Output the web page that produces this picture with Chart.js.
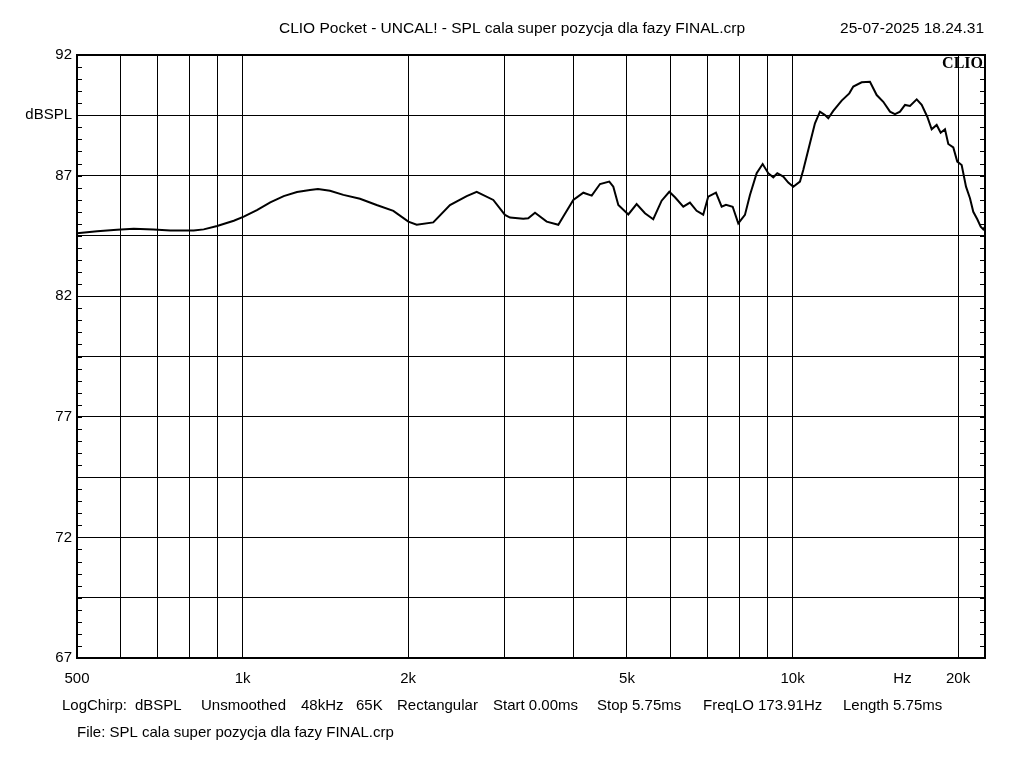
<!DOCTYPE html>
<html>
<head>
<meta charset="utf-8">
<script src="https://cdn.jsdelivr.net/npm/chart.js@4.4.1/dist/chart.umd.min.js"></script>
<style>
  html, body { margin: 0; padding: 0; background: #fff; }
  #chart { display: block; }
</style>
</head>
<body>
<canvas id="chart" width="1024" height="768"></canvas>
<script>
// frequency (Hz) and level (dBSPL)
var freqs = [500, 544, 591, 634, 689, 739, 815, 850, 899, 964,
  1005, 1062, 1123, 1188, 1256, 1326, 1371, 1442, 1525, 1635,
  1753, 1880, 2002, 2073, 2222, 2383, 2556, 2665, 2857, 3000,
  3064, 3239, 3307, 3402, 3573, 3751, 3830, 3994, 4165, 4314,
  4466, 4643, 4722, 4822, 5028, 5206, 5391, 5581, 5781, 5969,
  6113, 6329, 6508, 6693, 6880, 7026, 7257, 7432, 7568, 7783,
  7968, 8193, 8367, 8605, 8824, 9033, 9225, 9382, 9620, 9823,
  10031, 10315, 10459, 10756, 10984, 11216, 11455, 11614, 11859, 12284,
  12682, 12896, 13356, 13829, 14223, 14621, 15038, 15356, 15682, 16014,
  16350, 16816, 17172, 17578, 17905, 18284, 18594, 18931, 19195, 19602,
  19930, 20300, 20673, 21019, 21312, 21674, 21985, 22224, 22384];
var spl = [84.61, 84.69, 84.76, 84.80, 84.77, 84.72, 84.72, 84.77, 84.91, 85.13,
  85.30, 85.57, 85.89, 86.15, 86.32, 86.40, 86.44, 86.37, 86.20, 86.04,
  85.78, 85.54, 85.09, 84.96, 85.06, 85.78, 86.15, 86.33, 85.99, 85.37,
  85.26, 85.21, 85.23, 85.46, 85.09, 84.96, 85.30, 85.99, 86.29, 86.17,
  86.65, 86.75, 86.54, 85.78, 85.39, 85.82, 85.44, 85.19, 85.96, 86.33,
  86.10, 85.71, 85.88, 85.54, 85.38, 86.13, 86.29, 85.71, 85.79, 85.71,
  85.02, 85.37, 86.20, 87.10, 87.48, 87.10, 86.93, 87.10, 86.96, 86.71,
  86.54, 86.75, 87.23, 88.34, 89.17, 89.65, 89.51, 89.38, 89.68, 90.11,
  90.41, 90.69, 90.87, 90.89, 90.34, 90.06, 89.65, 89.55, 89.65, 89.93,
  89.89, 90.16, 89.93, 89.44, 88.92, 89.10, 88.78, 88.92, 88.31, 88.17,
  87.58, 87.44, 86.54, 86.06, 85.50, 85.19, 84.88, 84.77, 84.88];

// axis ticks
var xGrid = [500, 600, 700, 800, 900, 1000, 2000, 3000, 4000, 5000, 6000, 7000, 8000, 9000, 10000, 20000];
var xLabelVals = [500, 1000, 2000, 5000, 10000, 15849, 20000];
var xLabelText = ['500', '1k', '2k', '5k', '10k', 'Hz', '20k'];
var yLabelVals = [92, 89.5, 87, 82, 77, 72, 67];
var yLabelText = ['92', 'dBSPL', '87', '82', '77', '72', '67'];

var titleText = 'CLIO Pocket - UNCAL! - SPL cala super pozycja dla fazy FINAL.crp';
var dateText = '25-07-2025 18.24.31';
var infoText = ['LogChirp:', 'dBSPL', 'Unsmoothed', '48kHz', '65K', 'Rectangular',
  'Start 0.00ms', 'Stop 5.75ms', 'FreqLO 173.91Hz', 'Length 5.75ms'];
var infoX = [62, 135, 201, 301, 356, 397, 493, 597, 703, 843];
var fileText = 'File: SPL cala super pozycja dla fazy FINAL.crp';

var FONT = '15px "Liberation Sans", Arial, sans-serif';

var clioDecor = {
  id: 'clioDecor',
  beforeDraw: function(chart) {
    var ctx = chart.ctx;
    ctx.save();
    ctx.fillStyle = '#fff';
    ctx.fillRect(0, 0, chart.width, chart.height);
    ctx.restore();
  },
  afterDraw: function(chart) {
    var ctx = chart.ctx, a = chart.chartArea, ys = chart.scales.y;
    ctx.save();
    // frame
    ctx.strokeStyle = '#000';
    ctx.lineWidth = 2;
    ctx.strokeRect(a.left, a.top, a.right - a.left, a.bottom - a.top);
    // minor ticks every 0.5 dB
    ctx.lineWidth = 1;
    ctx.beginPath();
    for (var v = 67; v <= 92; v += 0.5) {
      var py = Math.round(ys.getPixelForValue(v)) + 0.5;
      ctx.moveTo(a.left, py); ctx.lineTo(a.left + 5, py);
      ctx.moveTo(a.right - 5, py); ctx.lineTo(a.right, py);
    }
    ctx.stroke();
    // texts
    ctx.fillStyle = '#000';
    ctx.font = '15.5px "Liberation Sans", Arial, sans-serif';
    ctx.textBaseline = 'alphabetic';
    ctx.textAlign = 'center';
    ctx.fillText(titleText, 512, 33);
    ctx.textAlign = 'right';
    ctx.fillText(dateText, 984, 33);
    ctx.font = FONT;
    ctx.textAlign = 'left';
    for (var i = 0; i < infoText.length; i++) ctx.fillText(infoText[i], infoX[i], 710);
    ctx.fillText(fileText, 77, 737);
    ctx.font = 'bold 16px "Liberation Serif", "Times New Roman", serif';
    ctx.textAlign = 'right';
    ctx.fillText('CLIO', 983, 68);
    ctx.restore();
  }
};

new Chart(document.getElementById('chart'), {
  type: 'line',
  data: {
    datasets: [{
      data: freqs.map(function(f, i) { return { x: f, y: spl[i] }; }),
      borderColor: '#000',
      borderWidth: 2,
      pointRadius: 0,
      tension: 0,
      fill: false
    }]
  },
  options: {
    responsive: false,
    animation: false,
    layout: { padding: { top: 55, right: 39, left: 0, bottom: 0 } },
    plugins: { legend: { display: false }, tooltip: { enabled: false } },
    scales: {
      x: {
        type: 'logarithmic',
        min: 500,
        max: 22384,
        afterFit: function(s) { s.height = 110; },
        afterBuildTicks: function(s) {
          var all = xGrid.concat([15849]).sort(function(a, b) { return a - b; });
          s.ticks = all.map(function(v) { return { value: v }; });
        },
        border: { display: false },
        grid: {
          drawTicks: false,
          lineWidth: 1,
          color: function(c) {
            return c.tick && c.tick.value === 15849 ? 'rgba(0,0,0,0)' : '#000';
          }
        },
        ticks: {
          autoSkip: false,
          maxRotation: 0,
          padding: 12,
          color: '#000',
          font: { family: '"Liberation Sans", Arial, sans-serif', size: 15 },
          callback: function(v) {
            var k = xLabelVals.indexOf(v);
            return k >= 0 ? xLabelText[k] : '';
          }
        }
      },
      y: {
        min: 67,
        max: 92,
        afterFit: function(s) { s.width = 77; },
        afterBuildTicks: function(s) {
          var t = [];
          for (var v = 67; v <= 92; v += 2.5) t.push({ value: v });
          s.ticks = t;
        },
        border: { display: false },
        grid: { drawTicks: false, color: '#000', lineWidth: 1 },
        ticks: {
          padding: 5,
          color: '#000',
          font: { family: '"Liberation Sans", Arial, sans-serif', size: 15 },
          callback: function(v) {
            var k = yLabelVals.indexOf(Math.round(v * 10) / 10);
            return k >= 0 ? yLabelText[k] : '';
          }
        }
      }
    }
  },
  plugins: [clioDecor]
});
</script>
</body>
</html>
